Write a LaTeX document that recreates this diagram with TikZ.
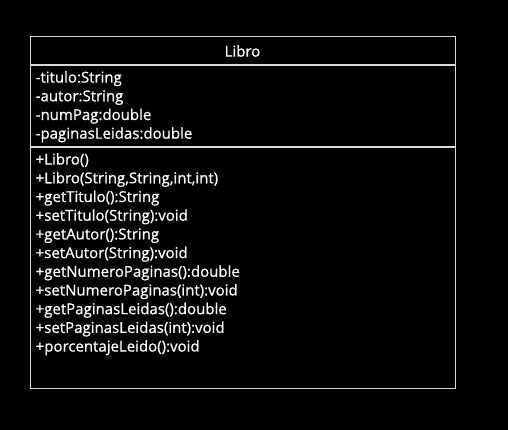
\documentclass[tikz,border=0pt]{standalone}
\usepackage{fontspec}
\setmainfont{Open Sans}
\newfontfamily\umlfont{Open Sans}[FakeBold=0.7]
\usepackage{tikz}
\usetikzlibrary{positioning}

\tikzset{
  section/.style={draw=white!85!black, line width=1pt, minimum width=425pt, inner sep=0pt},
  members/.style={text=white, align=left, inner sep=0pt, font=\umlfont\fontsize{15}{18.7}\selectfont},
}

\begin{document}
\begin{tikzpicture}[x=1pt,y=1pt]
\fill[black] (0,0) rectangle (508,430);
\useasboundingbox (0,0) rectangle (508,430);

\node[section, minimum height=28pt] (head) at (242.5,379) {};
\node[section, minimum height=81pt, below=0pt of head] (attrs) {};
\node[section, minimum height=241pt, below=0pt of attrs] (ops) {};

% class name
\node[members] (name) at (head.center) {Libro};

% attributes
\node[members, anchor=north west] (attrlist) at ([xshift=6pt,yshift=-5.5pt]attrs.north west) {%
-titulo:String\\
-autor:String\\
-numPag:double\\
-paginasLeidas:double};

% operations
\node[members, anchor=north west] (oplist) at ([xshift=6pt,yshift=-5.5pt]ops.north west) {%
+Libro()\\
+Libro(String,String,int,int)\\
+getTitulo():String\\
+setTitulo(String):void\\
+getAutor():String\\
+setAutor(String):void\\
+getNumeroPaginas():double\\
+setNumeroPaginas(int):void\\
+getPaginasLeidas():double\\
+setPaginasLeidas(int):void\\
+porcentajeLeido():void};
\end{tikzpicture}
\end{document}
